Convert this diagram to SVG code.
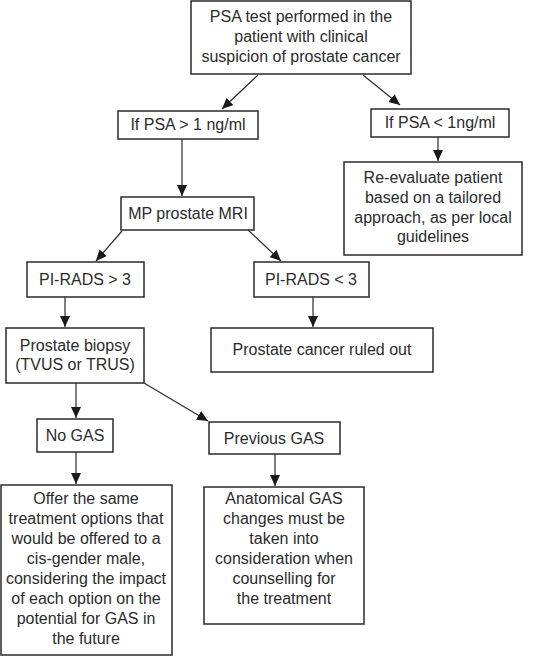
<svg xmlns="http://www.w3.org/2000/svg" width="540" height="657" viewBox="0 0 540 657">
<style>
.n rect{fill:#fff;stroke:#2b2b2b;stroke-width:1.5}
text{font-family:"Liberation Sans",Arial,sans-serif;font-size:16px;fill:#2b2b2b;text-anchor:middle}
.c line{stroke:#2b2b2b;stroke-width:1.2;marker-end:url(#ah)}
</style>
<defs>
<marker id="ah" markerUnits="userSpaceOnUse" markerWidth="12" markerHeight="10" refX="11" refY="5" orient="auto">
<path d="M0,0 L11,5 L0,10 Z" fill="#1a1a1a"/>
</marker>
</defs>
<rect width="540" height="657" fill="#fff"/>
<g class="c" id="connectors">
<line x1="258" y1="75" x2="222" y2="109"/>
<line x1="363" y1="75" x2="400" y2="105"/>
<line x1="438" y1="137" x2="438" y2="161"/>
<line x1="182" y1="139" x2="182" y2="196"/>
<line x1="122" y1="231" x2="96" y2="261"/>
<line x1="248" y1="230" x2="281" y2="261"/>
<line x1="65" y1="297" x2="65" y2="327"/>
<line x1="313" y1="297" x2="313" y2="327"/>
<line x1="76" y1="383" x2="76" y2="418"/>
<line x1="144" y1="383" x2="208" y2="421"/>
<line x1="76" y1="452" x2="76" y2="484"/>
<line x1="275" y1="454" x2="275" y2="486"/>
</g>
<g class="n" id="psa-test"><rect x="191" y="1" width="220" height="73"/>
<text x="301" y="22">PSA test performed in the</text>
<text x="301" y="42">patient with clinical</text>
<text x="301" y="62">suspicion of prostate cancer</text></g>
<g class="n" id="psa-high"><rect x="118" y="111" width="140" height="28"/><text x="188" y="130">If PSA &gt; 1 ng/ml</text></g>
<g class="n" id="psa-low"><rect x="371" y="109" width="138" height="28"/><text x="440" y="128">If PSA &lt; 1ng/ml</text></g>
<g class="n" id="reevaluate"><rect x="344" y="162" width="178" height="93"/>
<text x="433" y="183">Re-evaluate patient</text>
<text x="433" y="203">based on a tailored</text>
<text x="433" y="223">approach, as per local</text>
<text x="433" y="242">guidelines</text></g>
<g class="n" id="mri"><rect x="121" y="197" width="133" height="33"/><text x="188" y="219">MP prostate MRI</text></g>
<g class="n" id="pirads-high"><rect x="27" y="262" width="117" height="35"/><text x="85" y="285">PI-RADS &gt; 3</text></g>
<g class="n" id="pirads-low"><rect x="254" y="262" width="115" height="35"/><text x="311" y="285">PI-RADS &lt; 3</text></g>
<g class="n" id="biopsy"><rect x="6" y="328" width="138" height="55"/>
<text x="75" y="351">Prostate biopsy</text>
<text x="75" y="370">(TVUS or TRUS)</text></g>
<g class="n" id="ruled-out"><rect x="211" y="328" width="222" height="44"/><text x="322" y="355">Prostate cancer ruled out</text></g>
<g class="n" id="no-gas"><rect x="37" y="419" width="76" height="33"/><text x="75" y="441">No GAS</text></g>
<g class="n" id="prev-gas"><rect x="209" y="422" width="131" height="32"/><text x="274" y="444">Previous GAS</text></g>
<g class="n" id="offer"><rect x="1" y="485" width="171" height="170"/>
<text x="86" y="504">Offer the same</text>
<text x="86" y="524">treatment options that</text>
<text x="86" y="544">would be offered to a</text>
<text x="86" y="564">cis-gender male,</text>
<text x="86" y="584">considering the impact</text>
<text x="86" y="604">of each option on the</text>
<text x="86" y="624">potential for GAS in</text>
<text x="86" y="644">the future</text></g>
<g class="n" id="anatomical"><rect x="204" y="487" width="160" height="137"/>
<text x="284" y="504">Anatomical GAS</text>
<text x="284" y="524">changes must be</text>
<text x="284" y="544">taken into</text>
<text x="284" y="564">consideration when</text>
<text x="284" y="584">counselling for</text>
<text x="284" y="604">the treatment</text></g>
</svg>
